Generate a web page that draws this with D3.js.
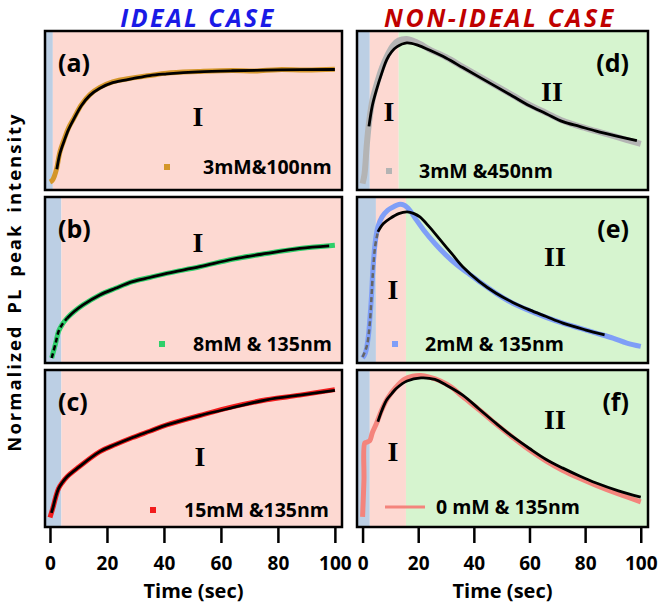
<!DOCTYPE html>
<html>
  <head>
    <meta charset="utf-8">
    <script src="https://d3js.org/d3.v7.min.js"></script>
    <title>PL intensity vs time</title>
    <style>
      body {
        margin: 0px;
        background: #fff;
      }
      text {
        font-family: 'Open Sans', sans-serif;
        font-weight: bold;
      }
      .roman {
        font-family: 'Liberation Serif', serif;
        font-size: 28px;
      }
    </style>
  </head>
  <body>
    <svg width="658" height="603"></svg>
    <script>
      // values, normalized to panel height (0 = bottom, 1 = top)
      const xTicks = [0, 20, 40, 60, 80, 100];

      const aDataT = [0, 0.8, 1.6, 2.4, 3.5, 5, 6.5, 8.5, 11, 14, 17.5, 22, 29, 35, 41, 52, 64, 72, 80, 90, 100];
      const aDataV = [0.05, 0.06, 0.09, 0.14, 0.24, 0.32, 0.39, 0.455, 0.535, 0.6, 0.645, 0.68, 0.705, 0.72, 0.735, 0.745, 0.752, 0.748, 0.757, 0.755, 0.76];
      const aFitT = [2.4, 3.5, 5, 6.5, 8.5, 11, 14, 17.5, 22, 29, 35, 41, 52, 64, 80, 100];
      const aFitV = [0.13, 0.23, 0.31, 0.38, 0.45, 0.53, 0.595, 0.64, 0.675, 0.7, 0.72, 0.73, 0.743, 0.75, 0.755, 0.758];

      const bDataT = [0.6, 2, 3, 4.2, 6, 8.5, 11.6, 17.5, 23, 29, 35, 41, 52.6, 64, 76, 87.7, 100];
      const bDataV = [0.03, 0.12, 0.19, 0.23, 0.27, 0.31, 0.35, 0.41, 0.45, 0.49, 0.515, 0.54, 0.58, 0.625, 0.66, 0.69, 0.71];
      const bDashT = [0.6, 2, 3, 4.2, 6];
      const bDashV = [0.03, 0.12, 0.19, 0.23, 0.27];
      const bFitT = [6, 8.5, 11.6, 17.5, 23, 29, 35, 41, 52.6, 64, 76, 87.7, 98];
      const bFitV = [0.27, 0.31, 0.35, 0.41, 0.45, 0.49, 0.515, 0.54, 0.58, 0.625, 0.66, 0.69, 0.705];

      const cDataT = [0, 1, 2, 3, 4.2, 6, 10, 17.5, 23, 29, 35, 41, 52.6, 64, 76, 87.7, 100];
      const cDataV = [0.06, 0.12, 0.19, 0.245, 0.28, 0.32, 0.38, 0.48, 0.525, 0.57, 0.61, 0.65, 0.71, 0.765, 0.81, 0.84, 0.875];
      const cFitT = [0.5, 1, 2, 3, 4.2, 6, 10, 17.5, 23, 29, 35, 41, 52.6, 64, 76, 87.7, 100];
      const cFitV = [0.09, 0.12, 0.19, 0.245, 0.28, 0.32, 0.38, 0.48, 0.525, 0.57, 0.61, 0.65, 0.71, 0.76, 0.81, 0.84, 0.87];

      const dDataT = [0, 0.7, 1.5, 2.3, 3.5, 5, 7, 9, 11, 13, 15.9, 18, 21, 24, 30, 36, 42, 48, 54, 60, 66, 72, 78, 84, 91, 100];
      const dDataV = [0.04, 0.1, 0.28, 0.42, 0.56, 0.66, 0.77, 0.85, 0.91, 0.94, 0.95, 0.94, 0.915, 0.885, 0.835, 0.775, 0.715, 0.655, 0.595, 0.535, 0.485, 0.435, 0.4, 0.37, 0.335, 0.29];
      const dFitT = [2.3, 3.5, 5, 7, 8.7, 10.5, 12.3, 15.9, 20, 24, 30, 36, 42, 48, 54, 60, 66, 72, 78, 84, 91, 98.6];
      const dFitV = [0.4, 0.53, 0.63, 0.74, 0.82, 0.87, 0.9, 0.925, 0.91, 0.88, 0.83, 0.77, 0.71, 0.65, 0.59, 0.53, 0.48, 0.43, 0.4, 0.37, 0.34, 0.31];

      const eDataT = [0, 1, 2, 2.6, 3.2, 3.7, 4.5, 5.5, 7, 9, 11, 13, 15, 17, 19, 22, 26, 30, 34, 38, 42, 48, 54, 60, 66, 72, 78, 84, 90, 95, 100];
      const eDataV = [0.03, 0.06, 0.15, 0.26, 0.4, 0.56, 0.72, 0.82, 0.88, 0.92, 0.94, 0.955, 0.95, 0.92, 0.87, 0.8, 0.72, 0.65, 0.59, 0.54, 0.49, 0.42, 0.36, 0.315, 0.275, 0.24, 0.21, 0.18, 0.15, 0.12, 0.1];
      const eDashT = [0, 1.5, 2.6, 3.7, 4.5, 5.5];
      const eDashV = [0.036, 0.1, 0.24, 0.54, 0.7, 0.79];
      const eFitT = [5.5, 7.5, 9.8, 13, 16, 18.5, 20.6, 24, 28, 32, 36, 42, 48, 54, 60, 66, 72, 80, 87];
      const eFitV = [0.79, 0.84, 0.87, 0.9, 0.91, 0.9, 0.88, 0.82, 0.74, 0.66, 0.58, 0.49, 0.42, 0.365, 0.32, 0.28, 0.24, 0.2, 0.17];

      const fDataT = [0, 0.5, 0.8, 1.5, 2.6, 3.5, 5, 7, 9, 12, 15, 18, 21, 24, 28, 32, 36, 42, 48, 54, 60, 66, 72, 78, 84, 92, 100];
      const fDataV = [0.064, 0.3, 0.535, 0.54, 0.55, 0.6, 0.66, 0.75, 0.82, 0.89, 0.94, 0.96, 0.965, 0.955, 0.93, 0.89, 0.83, 0.745, 0.655, 0.57, 0.49, 0.42, 0.36, 0.31, 0.265, 0.21, 0.16];
      const fFitT = [5.5, 7, 8.7, 10.5, 12.3, 16, 21, 26, 30, 36, 42, 48, 54, 60, 66, 72, 78, 84, 92, 100];
      const fFitV = [0.67, 0.745, 0.81, 0.85, 0.885, 0.93, 0.95, 0.94, 0.905, 0.84, 0.75, 0.66, 0.575, 0.5, 0.43, 0.375, 0.325, 0.28, 0.23, 0.19];

      const zip = (t, v) => t.map((d, i) => [d, v[i]]);

      const pink = '#fdd9d2';
      const green = '#d6f4cf';
      const blue = '#bccfe4';

      const colL = { x0: 45, x1: 342, domain: [-1.75, 102.5] };
      const colR = { x0: 357, x1: 648, domain: [-2, 102.6] };
      const rows = [[31, 190], [197, 363], [370, 527]];

      const panels = [
        { col: colL, row: 0, label: '(a)', labelLeft: true, bands: [1, null],
          data: zip(aDataT, aDataV), fit: zip(aFitT, aFitV), color: '#d4962a',
          legend: '3mM&100nm', legX: 167, legY: 167, legTX: 203, roman: [['I', 198, 126]] },
        { col: colL, row: 1, label: '(b)', labelLeft: true, bands: [4, null],
          data: zip(bDataT, bDataV), fit: zip(bFitT, bFitV), dash: zip(bDashT, bDashV), dashColor: '#000',
          color: '#2fcf6a', legend: '8mM & 135nm', legX: 162, legY: 344, legTX: 193, roman: [['I', 198, 252]] },
        { col: colL, row: 2, label: '(c)', labelLeft: true, bands: [4, null],
          data: zip(cDataT, cDataV), fit: zip(cFitT, cFitV), color: '#f21c1c',
          legend: '15mM &135nm', legX: 153, legY: 510, legTX: 184, roman: [['I', 200, 466]] },
        { col: colR, row: 0, label: '(d)', labelLeft: false, bands: [2.6, 13],
          data: zip(dDataT, dDataV), fit: zip(dFitT, dFitV), color: '#b4b4b4',
          legend: '3mM &450nm', legX: 389, legY: 171, legTX: 419, roman: [['I', 389, 121], ['II', 552, 101]] },
        { col: colR, row: 1, label: '(e)', labelLeft: false, bands: [4.8, 15.6],
          data: zip(eDataT, eDataV), fit: zip(eFitT, eFitV), dash: zip(eDashT, eDashV), dashColor: '#666',
          color: '#7f9ef7', legend: '2mM & 135nm', legX: 395, legY: 344, legTX: 425, roman: [['I', 393, 299], ['II', 555, 266]] },
        { col: colR, row: 2, label: '(f)', labelLeft: false, bands: [2.6, 15.6], lineLegend: true,
          data: zip(fDataT, fDataV), fit: zip(fFitT, fFitV), color: '#f4847c',
          legend: '0 mM & 135nm', legX: 405, legY: 507, legTX: 436, roman: [['I', 393, 461], ['II', 555, 429]] }
      ];

      const svg = d3.select('svg');

      svg.append('text')
          .attr('x', 198).attr('y', 27)
          .attr('text-anchor', 'middle')
          .attr('font-size', 25).attr('font-style', 'italic')
          .attr('letter-spacing', 2.4)
          .attr('fill', '#1a1ae6')
          .text('IDEAL CASE');
      svg.append('text')
          .attr('x', 500).attr('y', 27)
          .attr('text-anchor', 'middle')
          .attr('font-size', 25).attr('font-style', 'italic')
          .attr('letter-spacing', 2.6)
          .attr('fill', '#c00000')
          .text('NON-IDEAL CASE');

      svg.append('text')
          .attr('transform', 'translate(21,282) rotate(-90)')
          .attr('text-anchor', 'middle')
          .attr('font-size', 18.5)
          .attr('letter-spacing', 2)
          .attr('word-spacing', 4)
          .text('Normalized PL peak intensity');

      panels.forEach(p => {
        const [top, bottom] = rows[p.row];
        const x = d3.scaleLinear().domain(p.col.domain).range([p.col.x0, p.col.x1]);
        const y = d3.scaleLinear().domain([0, 1]).range([bottom, top]);
        const g = svg.append('g');

        const xmin = p.col.domain[0], xmax = p.col.domain[1];
        const b1 = p.bands[0], b2 = p.bands[1];
        g.append('rect').attr('x', x(xmin)).attr('y', top)
            .attr('width', x(b1) - x(xmin)).attr('height', bottom - top).attr('fill', blue);
        const pinkEnd = b2 === null ? xmax : b2;
        g.append('rect').attr('x', x(b1)).attr('y', top)
            .attr('width', x(pinkEnd) - x(b1)).attr('height', bottom - top).attr('fill', pink);
        if (b2 !== null) {
          g.append('rect').attr('x', x(b2)).attr('y', top)
              .attr('width', x(xmax) - x(b2)).attr('height', bottom - top).attr('fill', green);
        }

        const line = d3.line()
          .x(d => x(d[0]))
          .y(d => y(d[1]))
          .curve(d3.curveCatmullRom);

        g.append('path').datum(p.data)
            .attr('d', line)
            .attr('fill', 'none')
            .attr('stroke', p.color)
            .attr('stroke-width', p.row === 0 && p.col === colR ? 6 : 5)
            .attr('stroke-linejoin', 'round');

        if (p.dash) {
          g.append('path').datum(p.dash)
              .attr('d', line)
              .attr('fill', 'none')
              .attr('stroke', p.dashColor)
              .attr('stroke-width', 2.5)
              .attr('stroke-dasharray', '5,3');
        }

        g.append('path').datum(p.fit)
            .attr('d', line)
            .attr('fill', 'none')
            .attr('stroke', '#000')
            .attr('stroke-width', 2.8);

        // legend
        if (p.lineLegend) {
          g.append('line')
              .attr('x1', p.legX - 20).attr('x2', p.legX + 20)
              .attr('y1', p.legY).attr('y2', p.legY)
              .attr('stroke', p.color).attr('stroke-width', 3);
        } else {
          g.append('rect')
              .attr('x', p.legX - 3).attr('y', p.legY - 3)
              .attr('width', 6).attr('height', 6)
              .attr('fill', p.color);
        }
        g.append('text')
            .attr('x', p.legTX).attr('y', p.legY + 7)
            .attr('font-size', 19.5)
            .text(p.legend);

        p.roman.forEach(r => {
          g.append('text')
              .attr('class', 'roman')
              .attr('x', r[1]).attr('y', r[2])
              .attr('text-anchor', 'middle')
              .text(r[0]);
        });

        g.append('text')
            .attr('x', p.labelLeft ? p.col.x0 + 13 : p.col.x1 - 19)
            .attr('y', top + 41)
            .attr('text-anchor', p.labelLeft ? 'start' : 'end')
            .attr('font-size', 25)
            .text(p.label);

        g.append('rect')
            .attr('x', p.col.x0).attr('y', top)
            .attr('width', p.col.x1 - p.col.x0).attr('height', bottom - top)
            .attr('fill', 'none')
            .attr('stroke', '#000')
            .attr('stroke-width', 2.5);

        if (p.row === 2) {
          const axis = svg.append('g')
              .attr('transform', `translate(0,${bottom})`)
              .call(d3.axisBottom(x).tickValues(xTicks).tickSize(16).tickPadding(14));
          axis.select('.domain').remove();
          axis.selectAll('line').attr('stroke', '#000').attr('stroke-width', 2.5);
          axis.selectAll('text')
              .attr('font-size', 19)
              .attr('font-family', "'Open Sans', sans-serif")
              .attr('font-weight', 'bold')
              .attr('fill', '#000');
          svg.append('text')
              .attr('x', (p.col.x0 + p.col.x1) / 2)
              .attr('y', 598)
              .attr('text-anchor', 'middle')
              .attr('font-size', 20)
              .text('Time (sec)');
        }
      });
    </script>
  </body>
</html>
